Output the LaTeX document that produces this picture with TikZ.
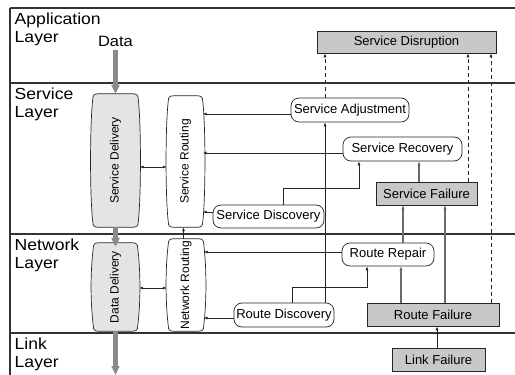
\documentclass[tikz,border=0pt]{standalone}
\usepackage{fontspec}
\setmainfont{Liberation Sans}
\newfontfamily\widefont[FakeStretch=1.1]{Liberation Sans}
\usetikzlibrary{arrows.meta,calc,backgrounds}
\definecolor{boxgray}{HTML}{C8C8C8}
\definecolor{colgray}{HTML}{E4E4E4}
\definecolor{linegray}{HTML}{6A6A6A}
\definecolor{fatgray}{HTML}{8A8A8A}
\newcommand\layerfont{\widefont\fontsize{16}{18}\selectfont}
\newcommand\datafont{\widefont\fontsize{15}{17}\selectfont}
\newcommand\nodefont{\fontsize{13}{15}\selectfont}
\newcommand\colfont{\fontsize{12}{14}\selectfont}
\newcommand\colshape[2]{%
\draw[draw=black!85, line width=0.7pt, fill=#2]
($(#1.north west)+(5,0)$) -- ($(#1.north east)+(-5,0)$)
.. controls ($(#1.north east)+(-1.5,0)$) and ($(#1.north east)+(0,1.5)$) .. ($(#1.north east)+(0,5)$)
.. controls ($(#1.north east)+(3,30)$) and ($(#1.south east)+(3,-30)$) .. ($(#1.south east)+(0,-5)$)
.. controls ($(#1.south east)+(0,-1.5)$) and ($(#1.south east)+(-1.5,0)$) .. ($(#1.south east)+(-5,0)$)
-- ($(#1.south west)+(5,0)$)
.. controls ($(#1.south west)+(1.5,0)$) and ($(#1.south west)+(0,-1.5)$) .. ($(#1.south west)+(0,-5)$)
.. controls ($(#1.south west)+(-3,-30)$) and ($(#1.north west)+(-3,30)$) .. ($(#1.north west)+(0,5)$)
.. controls ($(#1.north west)+(0,1.5)$) and ($(#1.north west)+(1.5,0)$) .. cycle;}
\tikzset{
 lbl/.style={font=\layerfont, align=left, inner sep=0pt, anchor=north west},
 rbox/.style={draw=black!85, line width=0.7pt, fill=white, rounded corners=8pt, minimum height=23pt, inner sep=0pt, font=\nodefont},
 gbox/.style={draw=black!85, line width=0.7pt, fill=boxgray, minimum height=23pt, inner sep=0pt, font=\nodefont},
 col/.style={inner sep=0pt, font=\colfont},
 arr/.style={draw=black!85, line width=0.7pt, -{Latex[length=4pt,width=3pt]}},
 dbl/.style={draw=black!85, line width=0.7pt, {Latex[length=4pt,width=3pt]}-{Latex[length=4pt,width=3pt]}},
 garr/.style={draw=linegray, line width=1.2pt, -{Latex[length=4pt,width=3.5pt]}},
 darr/.style={arr, dash pattern=on 4pt off 3pt},
 fat/.style={draw=fatgray, line width=4.5pt, -{Triangle[width=8pt,length=9pt]}},
 layerline/.style={draw=black!80, line width=1.6pt},
}
\begin{document}
\begin{tikzpicture}[x=1pt,y=-1pt]
\useasboundingbox (0,0) rectangle (515,375);
% frame and layer separators
\draw[layerline] (10,8) -- (515,8);
\draw[layerline] (10,83) -- (515,83);
\draw[layerline] (10,234) -- (515,234);
\draw[layerline] (10,333) -- (515,333);
\draw[layerline] (10,8) -- (10,375);
% layer labels
\node[lbl] (lapp) at (14.5,12.5) {Application\\Layer};
\node[lbl] (lsvc) at (14.5,87.5) {Service\\Layer};
\node[lbl] (lnet) at (14.5,238.5) {Network\\Layer};
\node[lbl] (llink) at (14.5,337.5) {Link\\Layer};
\node[font=\datafont, inner sep=0pt, anchor=base] (data) at (115.5,46) {Data};
% columns
\node[col, minimum width=45pt, minimum height=133pt] (sdel) at (115.5,160.5) {\rotatebox{90}{Service Delivery}};
\node[col, minimum width=34pt, minimum height=131pt] (srout) at (185.5,161.5) {\rotatebox{90}{Service Routing}};
\node[col, minimum width=44pt, minimum height=88pt] (ddel) at (115.5,287) {\rotatebox{90}{Data Delivery}};
\node[col, minimum width=35pt, minimum height=92pt] (nrout) at (186,285) {\rotatebox{90}{Network Routing}};
\begin{scope}[on background layer]
\colshape{sdel}{colgray}
\colshape{srout}{white}
\colshape{ddel}{colgray}
\colshape{nrout}{white}
\end{scope}
% boxes
\node[gbox, minimum width=179pt, minimum height=22pt] (sdisr) at (406.5,42) {Service Disruption};
\node[rbox, minimum width=118pt, minimum height=24pt] (sadj) at (350,110) {Service Adjustment};
\node[rbox, minimum width=119pt, minimum height=24pt] (srec) at (402.5,149) {Service Recovery};
\node[gbox, minimum width=101pt] (sfail) at (426.5,193.5) {Service Failure};
\node[rbox, minimum width=111pt] (sdisc) at (268.5,216.5) {Service Discovery};
\node[rbox, minimum width=92pt] (rrep) at (388,254.5) {Route Repair};
\node[gbox, minimum width=132pt] (rfail) at (433,314.5) {Route Failure};
\node[rbox, minimum width=100pt, minimum height=24pt] (rdisc) at (284,315) {Route Discovery};
\node[gbox, minimum width=93pt] (lfail) at (438.5,359.5) {Link Failure};
\coordinate (bottomend) at (115.5,375);
% data flow
\draw[fat] ([yshift=-4pt]data.south) -- (data.south |- sdel.north);
\draw[fat] (sdel.south) -- ([yshift=-4pt]ddel.north);
\draw[fat] (ddel.south) -- (bottomend);
% into routing columns
\draw[arr] ([yshift=-4pt]sadj.west) -- ([yshift=-4pt]sadj.west -| srout.east);
\draw[arr] ([yshift=-4pt]srec.west) -- ([yshift=-4pt]srec.west -| srout.east);
\draw[arr] ([yshift=4.5pt]sdisc.west) -- ([yshift=4.5pt]sdisc.west -| srout.east);
\draw[arr] ([yshift=2.5pt]rrep.west) -- ([yshift=2.5pt]rrep.west -| nrout.east);
\draw[arr] ([yshift=-3pt]rdisc.west) -- ([yshift=-3pt]rdisc.west -| nrout.east);
\draw[arr] ([xshift=-2.5pt]nrout.north) -- ([xshift=-2.5pt]nrout.north |- srout.south);
\draw[dbl] ($(sdel.east)+(1.5,6.5)$) -- ($(srout.west)+(-1.5,5.5)$);
\draw[dbl] ($(ddel.east)+(1.5,1)$) -- ($(nrout.west)+(-1.5,3)$);
% vertical links
\draw[arr] ([xshift=41pt]rdisc.north) -- ([xshift=41pt]rdisc.north |- sadj.south);
\draw[darr] ([xshift=-25pt]sadj.north) -- ([xshift=-25pt]sadj.north |- sdisr.south);
\draw[arr] ([xshift=8pt]rdisc.north) -- ++(0,-15) -| ([xshift=-21pt]rrep.south);
\draw[arr] ([xshift=14.5pt]sdisc.north) -- ++(0,-16) -| ([xshift=-43.5pt]srec.south);
\draw[garr] ([xshift=-7.5pt]sfail.north) -- ([xshift=-7.5pt]sfail.north |- srec.south);
\draw[garr] ([xshift=-32pt]rfail.north) -- ([xshift=-32pt]rfail.north |- rrep.south);
\draw[garr] ([xshift=15pt]rrep.north) -- ([xshift=15pt]rrep.north |- sfail.south);
\draw[garr] ([xshift=12pt]rfail.north) -- ([xshift=12pt]rfail.north |- sfail.south);
\draw[arr] ([xshift=-1.5pt]lfail.north) -- ([xshift=-1.5pt]lfail.north |- rfail.south);
\draw[darr] ([xshift=41.5pt]sfail.north) -- ([xshift=41.5pt]sfail.north |- sdisr.south);
\draw[darr] ([xshift=58pt]rfail.north) -- ([xshift=58pt]rfail.north |- sdisr.south);
\end{tikzpicture}
\end{document}
